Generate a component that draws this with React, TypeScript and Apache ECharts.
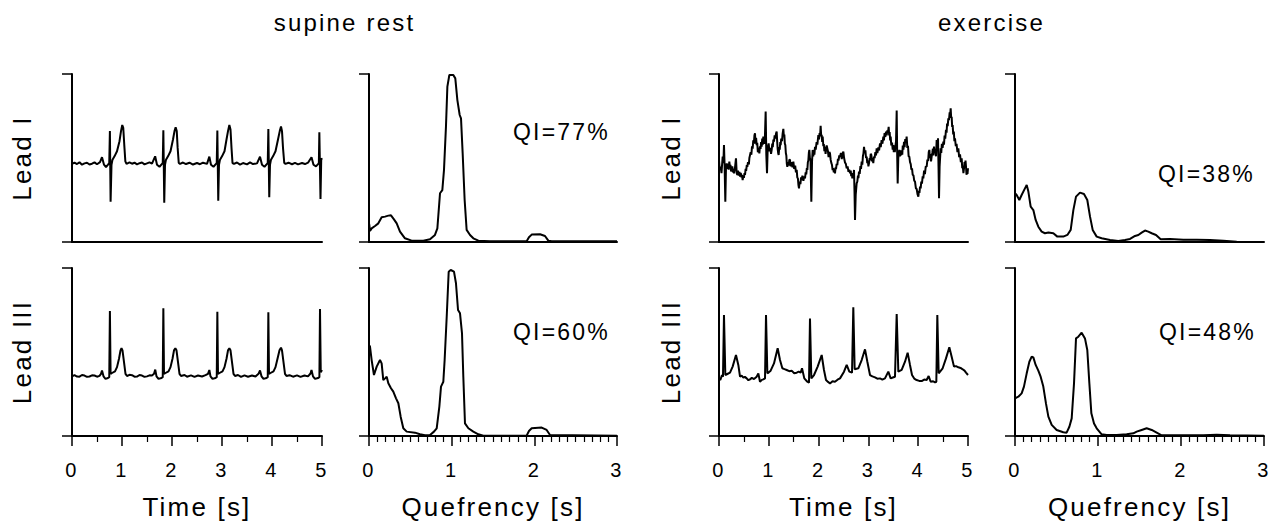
import React, { useEffect, useRef } from "react";
import * as echarts from "echarts";

// ---------- DATA ----------
const groupTitles = ["supine rest", "exercise"];
const leadLabels = ["Lead I", "Lead III"];
const xTitles = ["Time [s]", "Quefrency [s]"];
const qiLabels = ["QI=77%", "QI=60%", "QI=38%", "QI=48%"]; // supine I, supine III, exercise I, exercise III
const timeMax = 5;
const quefMax = 3;

// supine rest, Lead I ECG  [time s, amplitude]
const supineLeadI: number[][] = [
  [0, 46.5], [0.05, 47.3], [0.1, 46.4], [0.15, 47.5], [0.2, 46], [0.25, 46.8], [0.3, 47.2], [0.35, 46.1], [0.4, 46.6], [0.45, 47.4], [0.5, 46.3], [0.56, 47.5],
  [0.6, 50.5], [0.64, 46], [0.68, 44.5], [0.72, 46], [0.745, 47], [0.758, 66.1], [0.772, 24], [0.79, 46], [0.81, 49], [0.85, 51], [0.9, 54], [0.95, 60],
  [0.98, 66], [1.005, 69.6], [1.025, 68], [1.045, 58], [1.067, 48], [1.09, 46.5], [1.15, 47.4], [1.2, 46.6], [1.25, 47.2], [1.3, 46.2], [1.35, 46.9], [1.4, 47.3],
  [1.45, 46.2], [1.5, 46.8], [1.55, 47.4], [1.6, 46.6], [1.663, 51], [1.7, 46], [1.75, 44.8], [1.8, 46.5], [1.815, 47], [1.827, 66.5], [1.845, 23.4],
  [1.86, 46], [1.88, 49], [1.92, 51], [1.97, 54], [2.02, 61], [2.05, 66], [2.073, 68.3], [2.095, 66], [2.113, 56], [2.135, 47], [2.16, 46.5], [2.22, 47.3],
  [2.28, 46.4], [2.35, 47.2], [2.42, 46.1], [2.5, 47], [2.56, 46.3], [2.62, 47.2], [2.7, 46.5], [2.747, 50.8], [2.78, 46], [2.83, 44.8], [2.88, 46.5],
  [2.895, 47], [2.907, 66.3], [2.925, 24.6], [2.94, 46], [2.96, 49], [3.0, 51], [3.05, 54], [3.09, 61], [3.12, 66], [3.147, 69.6], [3.17, 67],
  [3.19, 56], [3.21, 47], [3.24, 46.5], [3.3, 47.3], [3.36, 46.1], [3.42, 47], [3.5, 46.2], [3.56, 47.4], [3.62, 46.4], [3.7, 46.8], [3.76, 50.8],
  [3.8, 46], [3.85, 44.8], [3.9, 46.5], [3.915, 47], [3.927, 67.3], [3.945, 26.6], [3.96, 46], [3.98, 49], [4.02, 51], [4.07, 54], [4.12, 61],
  [4.155, 66], [4.18, 68.7], [4.2, 66], [4.22, 56], [4.245, 47], [4.27, 46.5], [4.33, 47.2], [4.4, 46.3], [4.46, 47.1], [4.52, 46.2], [4.6, 47],
  [4.66, 46.4], [4.72, 47.2], [4.79, 50.5], [4.83, 46], [4.88, 45], [4.925, 46.5], [4.937, 47], [4.947, 65.3], [4.97, 25.6], [4.985, 49.8], [5.0, 49],
];

// supine rest, Lead III ECG
const supineLeadIII: number[][] = [
  [0, 35.5], [0.05, 36.2], [0.1, 35.4], [0.15, 35.3], [0.2, 36.3], [0.25, 36], [0.3, 35.2], [0.35, 35.4], [0.4, 36.1], [0.45, 36], [0.5, 35.3], [0.55, 35.8],
  [0.58, 37], [0.6, 39], [0.63, 35.5], [0.67, 34], [0.72, 34.5], [0.745, 35], [0.758, 74.4], [0.772, 37], [0.8, 37.5], [0.86, 38.5], [0.9, 41],
  [0.94, 46], [0.97, 51], [0.99, 52.2], [1.01, 51], [1.04, 44], [1.07, 37], [1.1, 35.7], [1.15, 36.4], [1.2, 36.2], [1.25, 35.3], [1.3, 35.4],
  [1.35, 36.3], [1.4, 36], [1.45, 35.2], [1.5, 35.5], [1.55, 36.1], [1.6, 36], [1.64, 37], [1.665, 39.5], [1.69, 35.5], [1.73, 34], [1.79, 34.5],
  [1.815, 35], [1.827, 76], [1.84, 37], [1.87, 37.5], [1.93, 38.5], [1.97, 41], [2.01, 46], [2.04, 51], [2.067, 52.2], [2.09, 51], [2.12, 44],
  [2.15, 37], [2.18, 35.7], [2.25, 36.3], [2.3, 35.3], [2.38, 36.1], [2.45, 35.2], [2.52, 36], [2.6, 35.4], [2.67, 36.2], [2.72, 37], [2.747, 39.3],
  [2.77, 35.5], [2.81, 34], [2.87, 34.5], [2.895, 35], [2.907, 74], [2.92, 37], [2.95, 37.5], [3.01, 38.5], [3.05, 41], [3.09, 46], [3.12, 51],
  [3.147, 52.2], [3.17, 51], [3.2, 44], [3.23, 37], [3.26, 35.7], [3.32, 36.3], [3.38, 35.2], [3.45, 36.1], [3.52, 35.3], [3.6, 36], [3.67, 35.4],
  [3.73, 37], [3.76, 39], [3.79, 35.5], [3.83, 34], [3.89, 34.5], [3.915, 35], [3.927, 73.6], [3.94, 37], [3.97, 37.5], [4.03, 38.5], [4.07, 41],
  [4.11, 46], [4.15, 51], [4.18, 52.6], [4.2, 51], [4.23, 44], [4.26, 37], [4.29, 35.7], [4.35, 36.2], [4.42, 35.3], [4.5, 36.1], [4.57, 35.2],
  [4.65, 36], [4.72, 35.5], [4.77, 37.2], [4.79, 39.3], [4.82, 35.5], [4.86, 34], [4.92, 34.5], [4.948, 35], [4.96, 75.6], [4.975, 38], [5.0, 39.3],
];

// exercise, Lead I ECG
const exerciseLeadI: number[][] = [
  [0, 48.8], [0.015, 43], [0.033, 44.8], [0.05, 41], [0.062, 46], [0.074, 50.8], [0.088, 47], [0.1, 57.7], [0.113, 45], [0.127, 24], [0.14, 44],
  [0.154, 46.8], [0.167, 43.5], [0.18, 46.5], [0.193, 43], [0.207, 47.8], [0.22, 44.5], [0.23, 46], [0.242, 42], [0.254, 42.9], [0.267, 45],
  [0.28, 41.5], [0.29, 43.5], [0.301, 40.9], [0.32, 44], [0.341, 49.8], [0.355, 41], [0.368, 39.9], [0.382, 42.5], [0.395, 39.5], [0.41, 41.8],
  [0.422, 38.9], [0.437, 41.2], [0.45, 38.5], [0.462, 40], [0.475, 36.9], [0.488, 39.5], [0.5, 38.2], [0.512, 41], [0.522, 39.9], [0.535, 43.5],
  [0.545, 42.3], [0.558, 45.8], [0.569, 44.8], [0.582, 47.5], [0.6, 46.2], [0.61, 50], [0.622, 49.8], [0.636, 53.5], [0.65, 52], [0.663, 57],
  [0.676, 55.5], [0.688, 60.5], [0.7, 58.5], [0.712, 63.5], [0.723, 64.7], [0.732, 58.5], [0.745, 62], [0.756, 57.7], [0.768, 59], [0.78, 53.4],
  [0.795, 56], [0.81, 52.8], [0.822, 57], [0.835, 55.4], [0.845, 59.5], [0.857, 56.7], [0.868, 61.5], [0.879, 58], [0.89, 62.7], [0.905, 58.5],
  [0.92, 60.5], [0.937, 77.6], [0.95, 52], [0.964, 40.9], [0.978, 56], [0.997, 58.7], [1.012, 54], [1.03, 56], [1.045, 52.5], [1.058, 54.8],
  [1.07, 58.5], [1.08, 56.5], [1.092, 61], [1.104, 59.7], [1.118, 63.5], [1.13, 61.5], [1.145, 64.5], [1.158, 65.7], [1.168, 60], [1.178, 55.4],
  [1.188, 53], [1.198, 51.8], [1.21, 56.5], [1.22, 55], [1.23, 59.5], [1.238, 57.7], [1.25, 61.5], [1.265, 60], [1.278, 64.5], [1.292, 67.3],
  [1.302, 63], [1.312, 64], [1.322, 58.5], [1.332, 57.7], [1.342, 53], [1.352, 51.5], [1.362, 46.5], [1.372, 44.8], [1.385, 47.5], [1.4, 45.5],
  [1.412, 49], [1.426, 48.8], [1.44, 45], [1.46, 47.6], [1.475, 44.5], [1.493, 47.8], [1.51, 43.5], [1.53, 45.4], [1.545, 41.5], [1.56, 42.9],
  [1.572, 38.5], [1.585, 37.7], [1.595, 34], [1.606, 31.9], [1.62, 36], [1.635, 34.5], [1.648, 38.5], [1.66, 36.9], [1.675, 39.5], [1.695, 36.4],
  [1.71, 39], [1.727, 37.9], [1.74, 41.5], [1.752, 40.2], [1.764, 44], [1.774, 42.9], [1.784, 47.5], [1.794, 48.5], [1.804, 53], [1.814, 54.8],
  [1.825, 50], [1.838, 48.5], [1.854, 24], [1.868, 48], [1.881, 54.8], [1.893, 51], [1.905, 54.4], [1.916, 52], [1.928, 56.7], [1.942, 55],
  [1.96, 59.5], [1.975, 58], [1.995, 63.7], [2.008, 61], [2.02, 64.8], [2.03, 63], [2.041, 69.2], [2.052, 63], [2.062, 63.8], [2.072, 59.5],
  [2.082, 62.7], [2.095, 57], [2.105, 58.3], [2.116, 54], [2.128, 56.7], [2.14, 52.5], [2.15, 55.2], [2.162, 57.5], [2.175, 55.7], [2.188, 54],
  [2.2, 50.5], [2.215, 53.5], [2.229, 52.8], [2.242, 49], [2.255, 47.1], [2.268, 46], [2.282, 42.8], [2.295, 44], [2.305, 41.5], [2.318, 43],
  [2.329, 40.9], [2.342, 44.5], [2.35, 43.3], [2.362, 46.5], [2.376, 45.8], [2.388, 49.5], [2.4, 48.5], [2.415, 51.5], [2.43, 50.8], [2.448, 53],
  [2.465, 49.4], [2.48, 52.5], [2.497, 53.8], [2.512, 50], [2.53, 47.3], [2.547, 46.5], [2.564, 43.8], [2.582, 45], [2.6, 41.8], [2.615, 43],
  [2.631, 40.9], [2.645, 42.5], [2.655, 39.2], [2.667, 40.5], [2.677, 37.9], [2.69, 41], [2.7, 39.5], [2.711, 42.9], [2.721, 30], [2.731, 13.1],
  [2.745, 28], [2.764, 34.9], [2.778, 36], [2.79, 39.5], [2.8, 38], [2.811, 41.9], [2.825, 40.5], [2.84, 45.2], [2.852, 43.5], [2.865, 47.8],
  [2.878, 46], [2.89, 51.2], [2.9, 52.5], [2.912, 56.7], [2.925, 53], [2.94, 54.5], [2.952, 50], [2.965, 50.8], [2.977, 47], [2.99, 48.4],
  [3.0, 45], [3.012, 46.8], [3.025, 50], [3.035, 48.6], [3.047, 52.5], [3.059, 51.8], [3.072, 48], [3.085, 49.9], [3.098, 47], [3.112, 50.8],
  [3.125, 50], [3.14, 53.5], [3.153, 51.5], [3.166, 55.8], [3.18, 53], [3.2, 56.3], [3.215, 54.5], [3.233, 58.7], [3.248, 56.5], [3.265, 60.6],
  [3.282, 58.5], [3.3, 62.7], [3.312, 60.5], [3.325, 64.9], [3.34, 62.5], [3.353, 65.7], [3.367, 63.5], [3.38, 66.4], [3.393, 65], [3.407, 68.6],
  [3.417, 63.5], [3.427, 65.5], [3.437, 60.5], [3.447, 62.7], [3.46, 57.5], [3.475, 59.2], [3.488, 55], [3.501, 57.7], [3.51, 53.5], [3.52, 56.3],
  [3.53, 53.5], [3.541, 56.8], [3.555, 60], [3.568, 78.2], [3.578, 52], [3.588, 34.9], [3.6, 50], [3.621, 54.8], [3.633, 51], [3.645, 54.6],
  [3.657, 51.5], [3.668, 53.8], [3.68, 52], [3.69, 57.4], [3.703, 55], [3.715, 59.7], [3.727, 56.5], [3.74, 61.2], [3.755, 59], [3.768, 62.7],
  [3.782, 56], [3.795, 57.3], [3.808, 51], [3.822, 50.8], [3.836, 47.5], [3.85, 46.4], [3.863, 43], [3.876, 43.8], [3.89, 40], [3.905, 39.6],
  [3.92, 36.5], [3.936, 35.9], [3.953, 32], [3.97, 31.5], [3.986, 28.5], [4.003, 27], [4.015, 30.5], [4.025, 29.2], [4.037, 33], [4.05, 31.9],
  [4.062, 36], [4.075, 34.8], [4.09, 39], [4.103, 37.9], [4.118, 42.5], [4.135, 40.4], [4.152, 45], [4.17, 44.8], [4.185, 49], [4.2, 48.2],
  [4.212, 53.5], [4.224, 54.8], [4.235, 50], [4.245, 52.3], [4.258, 48], [4.27, 50.8], [4.283, 53], [4.295, 55.5], [4.306, 51.5], [4.317, 56.8],
  [4.33, 53], [4.345, 54.5], [4.358, 51], [4.371, 60.7], [4.385, 57], [4.398, 61.7], [4.408, 45], [4.418, 26], [4.43, 45], [4.451, 55.8],
  [4.463, 53], [4.475, 58.5], [4.49, 56], [4.505, 59.7], [4.518, 58], [4.53, 63.4], [4.543, 61.5], [4.558, 66.7], [4.57, 65], [4.58, 70.5],
  [4.592, 69], [4.605, 73.6], [4.618, 72.5], [4.632, 77.2], [4.642, 75.5], [4.652, 79.6], [4.662, 74], [4.672, 74.5], [4.682, 68.5], [4.692, 69.6],
  [4.703, 64], [4.715, 65.8], [4.727, 60], [4.739, 61.7], [4.755, 57], [4.77, 58.4], [4.788, 53.5], [4.806, 55.8], [4.822, 50.5], [4.84, 52.2],
  [4.856, 47.5], [4.873, 49.8], [4.884, 44], [4.895, 45.3], [4.908, 41], [4.92, 43.9], [4.93, 47.5], [4.94, 45.5], [4.95, 48.5], [4.96, 44.8],
  [4.97, 40], [4.98, 43.2], [4.99, 40.5], [5.0, 43.9],
];

// exercise, Lead III ECG
const exerciseLeadIII: number[][] = [
  [0, 34.3], [0.027, 33.3], [0.06, 36.3], [0.08, 35.3], [0.1, 72.0], [0.127, 36.3], [0.167, 36.9], [0.221, 37.7], [0.274, 41.3], [0.341, 48.2],
  [0.388, 42.3], [0.422, 35.3], [0.455, 35.9], [0.489, 34.7], [0.52, 35.2], [0.556, 34.3], [0.59, 33.2], [0.622, 33.7], [0.66, 34.6], [0.703, 33.9],
  [0.756, 35.3], [0.79, 37.3], [0.823, 32.3], [0.86, 33.4], [0.89, 33.7], [0.924, 34.3], [0.944, 72.0], [0.971, 37.3], [1.0, 37.9], [1.037, 38.9],
  [1.104, 43.2], [1.178, 52.2], [1.225, 45.2], [1.272, 40.3], [1.315, 39.8], [1.359, 39.3], [1.41, 38.6], [1.459, 38.9], [1.51, 37.4], [1.56, 37.7],
  [1.6, 38.3], [1.64, 37.7], [1.667, 40.3], [1.713, 34.3], [1.774, 32.3], [1.807, 31.7], [1.827, 70.0], [1.854, 34.3], [1.908, 36.3], [1.981, 41.3],
  [2.062, 48.2], [2.108, 39.3], [2.149, 33.3], [2.19, 32.2], [2.229, 31.3], [2.28, 32.6], [2.329, 32.3], [2.38, 33.5], [2.43, 34.3], [2.51, 38.3],
  [2.564, 42.3], [2.617, 38.3], [2.671, 37.7], [2.697, 76.6], [2.724, 39.7], [2.798, 40.3], [2.865, 45.2], [2.932, 51.6], [2.979, 44.2], [3.032, 36.3],
  [3.08, 35.5], [3.133, 34.9], [3.18, 34.1], [3.233, 34.3], [3.28, 33.6], [3.333, 34.3], [3.4, 38.3], [3.447, 34.3], [3.49, 34.8], [3.534, 35.3],
  [3.568, 72.6], [3.601, 38.3], [3.668, 39.3], [3.735, 44.2], [3.788, 49.6], [3.835, 42.3], [3.876, 36.3], [3.92, 34.2], [3.969, 33.3], [4.02, 32.8],
  [4.07, 32.7], [4.12, 33.6], [4.17, 33.3], [4.21, 35.7], [4.25, 32.3], [4.3, 32.6], [4.337, 31.9], [4.364, 32.3], [4.384, 72.0], [4.411, 37.3],
  [4.491, 40.3], [4.558, 46.2], [4.625, 52.8], [4.672, 47.2], [4.719, 41.3], [4.76, 41.6], [4.806, 40.9], [4.85, 40.5], [4.893, 39.7], [4.93, 38.9],
  [4.96, 37.7], [5.0, 36.3],
];

// supine rest, Lead I cepstrum [quefrency s, magnitude]
const supineCepI: number[][] = [
  [0, 11], [0.004, 10.1], [0.012, 6.5], [0.032, 8.1], [0.073, 9.5], [0.113, 11.1], [0.153, 14.7], [0.194, 15.1], [0.234, 15.7], [0.266, 15.9],
  [0.302, 13.5], [0.335, 11.1], [0.375, 6.2], [0.435, 2.2], [0.516, 0.8], [0.657, 0.8], [0.738, 1.6], [0.798, 4.2], [0.827, 8.1], [0.859, 29],
  [0.887, 30.9], [0.907, 42.8], [0.931, 68.7], [0.948, 92.5], [0.972, 99.4], [1.02, 99.4], [1.044, 97.4], [1.069, 84.5], [1.097, 75.6], [1.113, 73.6],
  [1.133, 52.8], [1.157, 25], [1.181, 7.2], [1.222, 4.2], [1.262, 2.2], [1.323, 0.8], [1.464, 0.4], [1.907, 0.4], [1.935, 2.8], [1.968, 4.4],
  [2.069, 4.6], [2.129, 3.6], [2.169, 0.8], [2.21, 0.4], [3.0, 0.4],
];

// supine rest, Lead III cepstrum
const supineCepIII: number[][] = [
  [0, 54.2], [0.012, 53.2], [0.032, 45.2], [0.06, 36.3], [0.093, 41.3], [0.133, 45.2], [0.153, 43.2], [0.173, 33.3], [0.194, 34.3], [0.214, 35.3],
  [0.234, 31.4], [0.266, 28.4], [0.294, 26.4], [0.327, 22.4], [0.355, 19.5], [0.383, 11.5], [0.415, 4.6], [0.456, 2.6], [0.556, 2.0], [0.617, 1.0],
  [0.677, 0.4], [0.738, 0.6], [0.786, 2.6], [0.819, 4.6], [0.851, 17.5], [0.871, 29.4], [0.899, 32.3], [0.915, 45.2], [0.94, 71], [0.964, 97.8],
  [0.988, 98.8], [1.028, 97.8], [1.052, 90.9], [1.077, 75], [1.101, 73], [1.125, 61.1], [1.141, 35.3], [1.161, 7.5], [1.202, 4.6], [1.262, 2.6],
  [1.323, 1.0], [1.383, 0.2], [1.907, 0.2], [1.935, 3.0], [1.968, 4.6], [2.089, 5.0], [2.149, 3.6], [2.19, 0.6], [3.0, 0.2],
];

// exercise, Lead I cepstrum
const exerciseCepI: number[][] = [
  [0, 29], [0.02, 28], [0.052, 25], [0.08, 28], [0.12, 31.9], [0.141, 33.9], [0.161, 30], [0.189, 21], [0.221, 19], [0.249, 13.1], [0.281, 9.1],
  [0.321, 6.2], [0.361, 5.2], [0.402, 5.6], [0.462, 5.2], [0.51, 3.2], [0.582, 3.2], [0.631, 4.2], [0.671, 7.2], [0.703, 19], [0.735, 27],
  [0.783, 29.4], [0.831, 28.6], [0.871, 25], [0.904, 15.1], [0.936, 7.2], [0.984, 3.2], [1.044, 2.2], [1.145, 1.2], [1.245, 0.6], [1.325, 1.2],
  [1.386, 1.8], [1.446, 3.6], [1.486, 4.2], [1.526, 5.6], [1.566, 6.8], [1.606, 6.2], [1.647, 5.2], [1.699, 4.2], [1.755, 1.6], [1.867, 1.8],
  [2.028, 1.4], [2.189, 1.4], [2.349, 1.2], [2.51, 0.8], [2.671, 0.2], [3.0, 0],
];

// exercise, Lead III cepstrum
const exerciseCepIII: number[][] = [
  [0, 22.4], [0.04, 23.4], [0.08, 25.4], [0.108, 29.4], [0.141, 37.3], [0.173, 44.2], [0.201, 47.2], [0.221, 46.8], [0.249, 42.3], [0.281, 38.9],
  [0.309, 35.3], [0.341, 29.4], [0.373, 19.4], [0.402, 11.5], [0.442, 6.6], [0.502, 3.6], [0.582, 2.2], [0.622, 2.0], [0.655, 5.5], [0.683, 10.5],
  [0.711, 31.3], [0.735, 58.1], [0.763, 59.1], [0.803, 61.5], [0.843, 58.1], [0.871, 51.2], [0.896, 31.3], [0.92, 13.5], [0.952, 7.5], [0.984, 4.6],
  [1.044, 1.0], [1.104, 0.6], [1.225, 0.6], [1.345, 1.0], [1.426, 1.6], [1.466, 2.6], [1.526, 3.6], [1.586, 4.6], [1.647, 3.6], [1.707, 2.0],
  [1.767, 0.4], [2.269, 0.4], [2.43, 0.8], [2.59, 0.4], [3.0, 0.2],
];

// ---------- LAYOUT ----------
const W = 1273;
const H = 529;
const colLeft = [72, 369, 719, 1015];
const colWidth = [250, 248, 249, 249];
const rowTop = [74, 268];
const rowH = 168;
const FONT = '"Liberation Sans", Arial, sans-serif';

const panelData = [
  [supineLeadI, supineCepI, exerciseLeadI, exerciseCepI],
  [supineLeadIII, supineCepIII, exerciseLeadIII, exerciseCepIII],
];

function buildOption() {
  const grids: any[] = [];
  const xAxes: any[] = [];
  const yAxes: any[] = [];
  const series: any[] = [];
  const axisLineStyle = { color: "#000", width: 2 };
  let idx = 0;
  for (let r = 0; r < 2; r++) {
    for (let c = 0; c < 4; c++) {
      const isTime = c % 2 === 0;
      const bottom = r === 1;
      grids.push({ left: colLeft[c], top: rowTop[r], width: colWidth[c], height: rowH, containLabel: false });
      xAxes.push({
        type: "value",
        gridIndex: idx,
        min: 0,
        max: isTime ? timeMax : quefMax,
        interval: 1,
        axisLine: { show: true, onZero: false, lineStyle: axisLineStyle },
        axisTick: { show: bottom, length: 10, lineStyle: { color: "#000", width: 1.5 } },
        minorTick: { show: bottom, splitNumber: isTime ? 2 : 10, length: 6, lineStyle: { color: "#000", width: 1.2 } },
        axisLabel: { show: bottom, margin: 24, fontSize: 20, fontFamily: FONT, color: "#000" },
        splitLine: { show: false },
        minorSplitLine: { show: false },
      });
      yAxes.push({
        type: "value",
        gridIndex: idx,
        min: 0,
        max: 100,
        interval: 100,
        axisLine: { show: true, onZero: false, lineStyle: axisLineStyle },
        axisTick: { show: true, length: 10, lineStyle: { color: "#000", width: 1.5 } },
        axisLabel: { show: false },
        splitLine: { show: false },
      });
      series.push({
        type: "line",
        xAxisIndex: idx,
        yAxisIndex: idx,
        data: panelData[r][c],
        showSymbol: false,
        symbol: "none",
        lineStyle: { color: "#000", width: 2 },
        silent: true,
      });
      idx++;
    }
  }

  const graphic: any[] = [];
  const text = (t: string, x: number, y: number, size: number, align = "center", rotation = 0) => ({
    type: "text",
    x,
    y,
    rotation,
    silent: true,
    style: { text: t, x: 0, y: 0, fill: "#000", fontSize: size, fontFamily: FONT, textAlign: align, textVerticalAlign: "middle" },
  });
  // group titles
  graphic.push(text(groupTitles[0], (colLeft[0] + colLeft[1] + colWidth[1]) / 2, 22, 24));
  graphic.push(text(groupTitles[1], (colLeft[2] + colLeft[3] + colWidth[3]) / 2, 22, 24));
  // x titles
  for (let c = 0; c < 4; c++) {
    graphic.push(text(xTitles[c % 2], colLeft[c] + colWidth[c] / 2, 507, 26));
  }
  // lead labels
  const leadX = [22, 671];
  for (let g = 0; g < 2; g++) {
    for (let r = 0; r < 2; r++) {
      graphic.push(text(leadLabels[r], leadX[g], rowTop[r] + rowH / 2, 26, "center", Math.PI / 2));
    }
  }
  // QI labels
  const qiPos = [
    [513, 132],
    [513, 332],
    [1158, 174],
    [1159, 332],
  ];
  qiLabels.forEach((q, i) => graphic.push(text(q, qiPos[i][0], qiPos[i][1], 23, "left")));

  return { animation: false, backgroundColor: "#fff", grid: grids, xAxis: xAxes, yAxis: yAxes, series, graphic };
}

export default function App() {
  const ref = useRef<HTMLDivElement>(null);
  useEffect(() => {
    if (!ref.current) return;
    const chart = echarts.init(ref.current, null, { renderer: "svg" });
    chart.setOption(buildOption() as any);
    return () => chart.dispose();
  }, []);
  return (
    <div
      ref={ref}
      style={{ position: "fixed", left: 0, top: 0, width: W, height: H, background: "#fff", letterSpacing: "2.2px" }}
    />
  );
}
